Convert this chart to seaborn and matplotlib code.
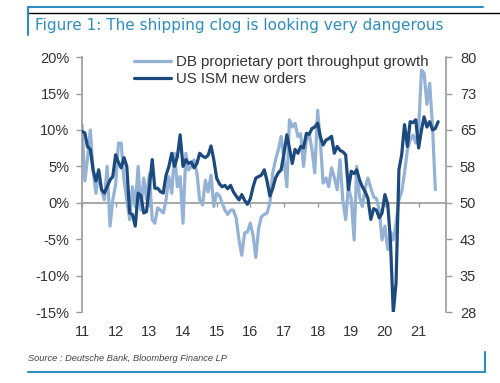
import seaborn as sns
import pandas as pd
import matplotlib.pyplot as plt
import matplotlib.dates as mdates
from matplotlib.lines import Line2D

# monthly series, Jan 2011 onwards
db_growth = [10.7, 3.0, 6.0, 10.0, 4.5, 1.3, 4.1, 1.8, 0.4, 5.0, -3.2, 0.4,
             2.5, 8.2, 8.2, 3.1, 0.4, -2.3, 2.2, -0.5, 5.0, -1.0, 3.4, 0.4,
             4.0, -2.3, -2.8, -0.7, -1.0, -1.4, 0.4, 3.6, 1.3, 6.8, 2.2, 3.6,
             -2.8, 6.8, 4.5, 5.0, 5.9, 4.1, 0.4, -0.3, 3.1, 1.5, 3.8, -0.5,
             1.3, 1.0, 0.0, -1.0, -1.6, -1.0, -1.0, -2.1, -5.1, -7.2, -4.1, -4.0,
             -2.8, -4.5, -7.5, -3.5, -1.9, -1.6, -1.4, 0.0, 4.1, 5.9, 7.3, 9.1,
             5.9, 2.2, 11.4, 10.4, 10.9, 9.1, 9.5, 5.0, 8.6, 9.5, 7.3, 4.1,
             12.7, 8.2, 2.7, 3.4, 2.2, 4.8, 3.5, 1.8, 5.9, 0.4, -2.3, 2.2,
             0.5, -5.1, 5.0, 0.8, -0.5, 2.0, 3.4, 2.0, 0.8, 0.6, -1.0, -5.1,
             -3.2, -6.4, -4.0, -5.1, -2.8, 0.4, 1.5, 4.1, 7.3, 8.6, 9.3, 8.2,
             10.2, 18.2, 17.8, 13.5, 16.4, 10.4, 1.8]

ism_new_orders = [64.7, 64.4, 61.6, 61.0, 56.8, 54.5, 56.8, 52.7, 52.0, 53.3, 54.7, 55.4,
                  59.9, 58.3, 57.2, 59.3, 57.5, 47.9, 47.6, 45.2, 52.0, 51.5, 47.9, 48.2,
                  53.3, 58.9, 53.0, 53.0, 52.3, 52.0, 55.7, 57.5, 60.2, 57.5, 59.5, 64.0,
                  57.5, 58.9, 58.1, 58.4, 57.2, 58.1, 60.2, 59.6, 59.3, 59.8, 61.7, 58.9,
                  55.1, 53.9, 53.3, 53.6, 52.9, 53.6, 52.3, 51.4, 50.6, 51.7, 50.5, 49.7,
                  50.8, 53.3, 55.1, 55.4, 55.7, 56.8, 54.5, 51.4, 53.0, 55.1, 56.2, 56.8,
                  60.2, 64.0, 61.3, 58.1, 61.0, 60.2, 61.6, 61.3, 64.3, 64.1, 65.3, 65.6,
                  66.4, 63.5, 61.9, 62.9, 63.2, 63.7, 60.2, 61.6, 60.8, 60.5, 59.9, 52.7,
                  56.5, 56.0, 56.8, 54.7, 53.3, 52.3, 50.9, 46.6, 48.8, 48.5, 46.9, 47.9,
                  51.7, 49.7, 42.2, 27.4, 33.5, 56.8, 59.9, 66.1, 61.6, 66.7, 66.5, 67.1,
                  61.3, 65.0, 67.7, 65.6, 66.7, 65.0, 65.3, 66.7]

dates = pd.date_range('2011-01-01', periods=len(ism_new_orders), freq='MS')

left_ticks = [-15, -10, -5, 0, 5, 10, 15, 20]
right_ticks = [27.5, 35, 42.5, 50, 57.5, 65, 72.5, 80]
right_labels = ['28', '35', '43', '50', '58', '65', '73', '80']
year_labels = ['11', '12', '13', '14', '15', '16', '17', '18', '19', '20', '21']

light_blue = '#94b2d6'
navy = '#1c4a7e'
title_blue = '#2f8dbf'
axis_grey = '#9a9a9a'
text_col = '#333333'

sns.set_style('white')
plt.rcParams['font.family'] = ['Liberation Sans', 'DejaVu Sans']

fig = plt.figure(figsize=(5, 3.83), dpi=100)
ax = fig.add_axes([0.164, 0.185, 0.728, 0.666])

sns.lineplot(x=dates[:len(db_growth)], y=db_growth, ax=ax, color=light_blue,
             linewidth=2.3, label='DB proprietary port throughput growth', legend=False)
ax2 = ax.twinx()
sns.lineplot(x=dates, y=ism_new_orders, ax=ax2, color=navy,
             linewidth=2.3, label='US ISM new orders', legend=False)

ax.set_ylim(-15, 20)
ax2.set_ylim(27.5, 80)
ax.set_xlim(pd.Timestamp('2011-01-01'), pd.Timestamp('2021-10-25'))

ax.set_yticks(left_ticks)
ax.set_yticklabels([f'{t}%' for t in left_ticks])
ax2.set_yticks(right_ticks)
ax2.set_yticklabels(right_labels)

ax.xaxis.set_major_locator(mdates.YearLocator())
ax.set_xticklabels(year_labels)
ax.set_xlabel('')
ax.set_ylabel('')
ax2.set_ylabel('')

for a in (ax, ax2):
    for s in ('top', 'bottom'):
        a.spines[s].set_visible(False)
    a.spines['left'].set_color(axis_grey)
    a.spines['right'].set_color(axis_grey)
    a.spines['left'].set_linewidth(1.2)
    a.spines['right'].set_linewidth(1.2)
ax.spines['right'].set_visible(False)
ax2.spines['left'].set_visible(False)

ax.tick_params(axis='y', length=4, width=1, color=axis_grey, labelsize=10.5, labelcolor=text_col, pad=5)
ax2.tick_params(axis='y', length=4, width=1, color=axis_grey, labelsize=10.5, labelcolor=text_col, pad=6)
ax.tick_params(axis='x', length=0, labelsize=10.5, labelcolor=text_col, pad=9)

# zero line with year ticks
zero = ax.secondary_xaxis(15 / 35)
zero.xaxis.set_major_locator(mdates.YearLocator())
zero.tick_params(axis='x', length=3, width=1, color=axis_grey, labelbottom=False, direction='out')
zero.spines['bottom'].set_color(axis_grey)
zero.spines['bottom'].set_linewidth(1.2)

h1, l1 = ax.get_legend_handles_labels()
h2, l2 = ax2.get_legend_handles_labels()
ax2.legend(h1 + h2, l1 + l2, loc='upper left', bbox_to_anchor=(0.125, 1.03),
           frameon=False, fontsize=10.8, handlelength=2.5, handletextpad=0.3,
           labelspacing=0.2, borderaxespad=0, labelcolor=text_col)

# header and footer
fig.text(0.07, 0.934, 'Figure 1: The shipping clog is looking very dangerous',
         color=title_blue, fontsize=11, va='center', ha='left', family='DejaVu Sans')
fig.add_artist(Line2D([0.056, 0.966], [0.982, 0.982], color=title_blue, lw=1.5))
fig.add_artist(Line2D([0.056, 1.0], [0.965, 0.965], color='black', lw=1.0))
fig.add_artist(Line2D([0.056, 0.056], [0.982, 0.908], color=title_blue, lw=1.5))
fig.text(0.056, 0.063, 'Source : Deutsche Bank, Bloomberg Finance LP',
         color='#444444', fontsize=6.7, style='italic', va='center', ha='left')
fig.add_artist(Line2D([0.056, 0.969], [0.029, 0.029], color=title_blue, lw=1.5))
fig.add_artist(Line2D([0.969, 0.969], [0.029, 0.08], color=title_blue, lw=1.5))

fig.savefig('out.png', dpi=100)
